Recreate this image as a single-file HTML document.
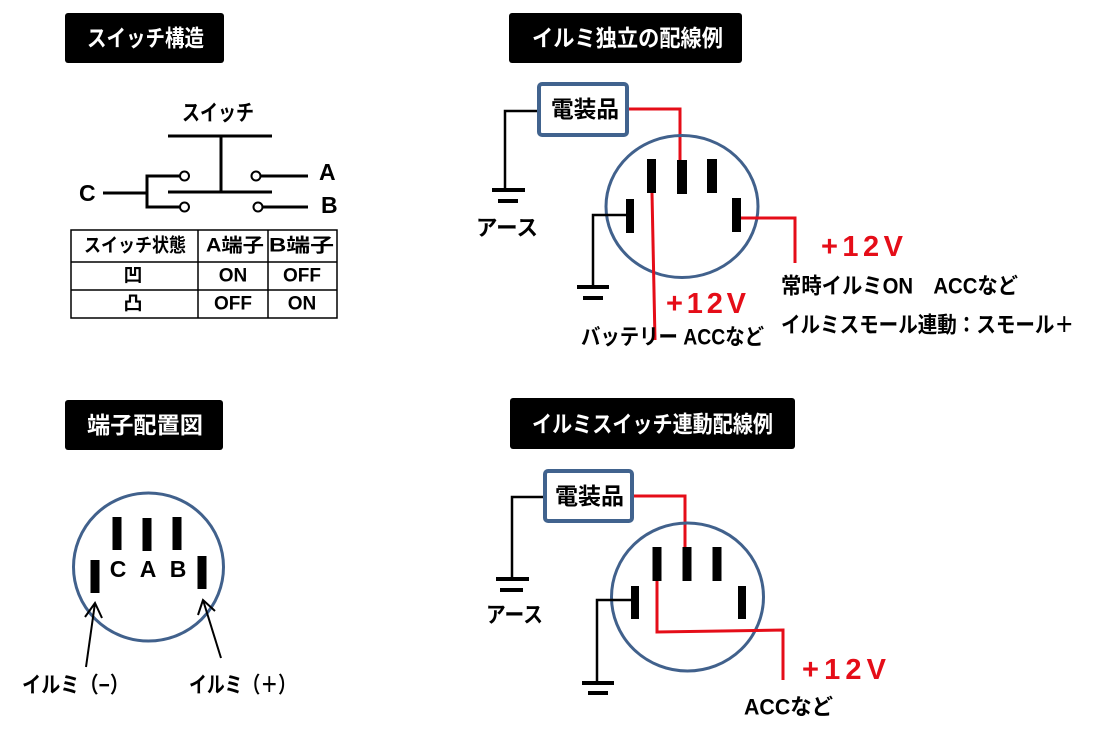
<!DOCTYPE html>
<html><head><meta charset="utf-8"><style>html,body{margin:0;padding:0;background:#fff}svg{display:block}</style></head>
<body>
<svg width="1097" height="732" viewBox="0 0 1097 732" xmlns="http://www.w3.org/2000/svg">
<rect width="1097" height="732" fill="#fff"/>
<g font-family="'Liberation Sans','Noto Sans CJK JP',sans-serif" font-weight="bold" dominant-baseline="central">

<!-- Titles -->
<rect x="65" y="13" width="159" height="50" rx="3" fill="#000"/>
<text x="87" y="38" font-size="23" fill="#fff" textLength="117" lengthAdjust="spacingAndGlyphs">スイッチ構造</text>
<rect x="509" y="13" width="233" height="50" rx="3" fill="#000"/>
<text x="532" y="38" font-size="23" fill="#fff" textLength="191" lengthAdjust="spacingAndGlyphs">イルミ独立の配線例</text>
<rect x="65" y="400" width="158" height="50" rx="3" fill="#000"/>
<text x="87" y="425" font-size="23" fill="#fff" textLength="116" lengthAdjust="spacingAndGlyphs">端子配置図</text>
<rect x="510" y="398" width="285" height="51" rx="3" fill="#000"/>
<text x="532" y="424" font-size="23" fill="#fff" textLength="241" lengthAdjust="spacingAndGlyphs">イルミスイッチ連動配線例</text>

<!-- Switch structure -->
<g stroke="#000" stroke-width="3" fill="none">
<line x1="168" y1="136" x2="272" y2="136"/>
<line x1="221" y1="136" x2="221" y2="192"/>
<line x1="168" y1="192" x2="272" y2="192"/>
<line x1="103" y1="193" x2="147" y2="193"/>
<line x1="147" y1="174.5" x2="147" y2="208.5"/>
<line x1="145.5" y1="176" x2="180" y2="176"/>
<line x1="145.5" y1="207" x2="180" y2="207"/>
<line x1="261" y1="176" x2="308" y2="176"/>
<line x1="263" y1="207" x2="308" y2="207"/>
</g>
<g stroke="#000" stroke-width="2" fill="#fff">
<circle cx="184.5" cy="176" r="4.5"/>
<circle cx="184.5" cy="207" r="4.5"/>
<circle cx="256" cy="176" r="4.5"/>
<circle cx="258" cy="207" r="4.5"/>
</g>
<text x="182" y="113" font-size="22" fill="#000" textLength="72" lengthAdjust="spacingAndGlyphs">スイッチ</text>
<text x="79" y="193" font-size="23" fill="#000">C</text>
<text x="319" y="172" font-size="23" fill="#000">A</text>
<text x="321" y="205" font-size="23" fill="#000">B</text>

<!-- Table -->
<g stroke="#000" stroke-width="1.5" fill="none">
<rect x="71" y="230" width="266" height="88"/>
<line x1="71" y1="262" x2="337" y2="262"/>
<line x1="71" y1="290" x2="337" y2="290"/>
<line x1="198" y1="230" x2="198" y2="318"/>
<line x1="268" y1="230" x2="268" y2="318"/>
</g>
<g font-size="19" fill="#000">
<text x="84" y="246" textLength="102" lengthAdjust="spacingAndGlyphs">スイッチ状態</text>
<text x="206" y="246" textLength="58" lengthAdjust="spacingAndGlyphs">A端子</text>
<text x="269" y="246" textLength="65" lengthAdjust="spacingAndGlyphs">B端子</text>
<text x="133" y="276" text-anchor="middle">凹</text>
<text x="233" y="276" text-anchor="middle">ON</text>
<text x="302" y="276" text-anchor="middle">OFF</text>
<text x="133" y="304" text-anchor="middle">凸</text>
<text x="233" y="304" text-anchor="middle">OFF</text>
<text x="302" y="304" text-anchor="middle">ON</text>
</g>

<!-- Figure: independent illumination wiring -->
<rect x="539" y="84" width="88" height="51" rx="3" fill="#fff" stroke="#41638e" stroke-width="4"/>
<text x="551" y="109" font-size="23" fill="#000" textLength="68" lengthAdjust="spacingAndGlyphs">電装品</text>
<polyline points="537,111 505,111 505,190" fill="none" stroke="#000" stroke-width="2.5"/>
<line x1="492" y1="190" x2="525" y2="190" stroke="#000" stroke-width="4"/>
<line x1="498" y1="201" x2="518" y2="201" stroke="#000" stroke-width="4"/>
<text x="476" y="228" font-size="22" fill="#000" textLength="62" lengthAdjust="spacingAndGlyphs">アース</text>
<polyline points="629,109 680,109 680,161" fill="none" stroke="#e50d18" stroke-width="3"/>
<ellipse cx="682" cy="206.5" rx="76" ry="71" fill="none" stroke="#41618c" stroke-width="3"/>
<g fill="#000">
<rect x="647" y="159" width="9" height="34"/>
<rect x="677" y="160" width="10" height="34"/>
<rect x="707" y="159" width="10" height="34"/>
<rect x="626" y="199" width="8" height="34"/>
<rect x="732" y="198" width="9" height="34"/>
</g>
<polyline points="626,215 593,215 593,287" fill="none" stroke="#000" stroke-width="2.5"/>
<line x1="577" y1="287" x2="609" y2="287" stroke="#000" stroke-width="4"/>
<line x1="583" y1="298" x2="603" y2="298" stroke="#000" stroke-width="4"/>
<line x1="652" y1="193" x2="655" y2="340" stroke="#e50d18" stroke-width="3"/>
<polyline points="741,218 795,218 795,263" fill="none" stroke="#e50d18" stroke-width="3"/>
<text x="666" y="304" font-size="29" fill="#e50d18" textLength="80" lengthAdjust="spacing">+12V</text>
<text x="581" y="337" font-size="22" fill="#000" textLength="183" lengthAdjust="spacingAndGlyphs">バッテリー ACCなど</text>
<text x="821" y="247" font-size="29" fill="#e50d18" textLength="82" lengthAdjust="spacing">+12V</text>
<text x="781" y="286" font-size="22" fill="#000" textLength="237" lengthAdjust="spacingAndGlyphs">常時イルミON　ACCなど</text>
<text x="781" y="325" font-size="22" fill="#000" textLength="293" lengthAdjust="spacingAndGlyphs">イルミスモール連動：スモール＋</text>

<!-- Figure: terminal layout -->
<ellipse cx="148.5" cy="567" rx="75" ry="74" fill="none" stroke="#41618c" stroke-width="3"/>
<g fill="#000">
<rect x="112.5" y="517" width="9" height="33"/>
<rect x="142.5" y="518" width="9" height="33"/>
<rect x="172.5" y="517" width="9" height="33"/>
<rect x="90.5" y="560" width="9" height="33"/>
<rect x="197.5" y="556" width="9" height="33"/>
</g>
<g font-size="23" fill="#000" text-anchor="middle">
<text x="118" y="569">C</text>
<text x="148" y="569">A</text>
<text x="178" y="569">B</text>
</g>
<g stroke="#000" stroke-width="2" fill="none">
<line x1="86" y1="667" x2="95" y2="603"/>
<polyline points="85,617 95,603 102,618"/>
<line x1="221" y1="658" x2="203" y2="600"/>
<polyline points="198,615 203,600 215,611"/>
</g>
<text x="22" y="685" font-size="22" fill="#000" textLength="107" lengthAdjust="spacingAndGlyphs">イルミ（−）</text>
<text x="189" y="685" font-size="22" fill="#000" textLength="107" lengthAdjust="spacingAndGlyphs">イルミ（＋）</text>

<!-- Figure: switch-linked wiring -->
<rect x="545" y="471" width="87" height="50" rx="3" fill="#fff" stroke="#41638e" stroke-width="4"/>
<text x="555" y="496" font-size="23" fill="#000" textLength="69" lengthAdjust="spacingAndGlyphs">電装品</text>
<polyline points="543,497 512,497 512,579" fill="none" stroke="#000" stroke-width="2.5"/>
<line x1="496" y1="579" x2="529" y2="579" stroke="#000" stroke-width="4"/>
<line x1="500" y1="590" x2="523" y2="590" stroke="#000" stroke-width="4"/>
<text x="486" y="615" font-size="22" fill="#000" textLength="57" lengthAdjust="spacingAndGlyphs">アース</text>
<polyline points="634,496 685,496 685,548" fill="none" stroke="#e50d18" stroke-width="3"/>
<ellipse cx="687.5" cy="597" rx="76" ry="74" fill="none" stroke="#41618c" stroke-width="3"/>
<g fill="#000">
<rect x="652.5" y="547" width="9" height="34"/>
<rect x="682.5" y="547" width="9" height="34"/>
<rect x="712.5" y="547" width="9" height="34"/>
<rect x="631" y="586" width="8" height="33"/>
<rect x="738" y="586" width="8" height="33"/>
</g>
<polyline points="631,600 597,600 597,683" fill="none" stroke="#000" stroke-width="2.5"/>
<line x1="582" y1="683" x2="614" y2="683" stroke="#000" stroke-width="4"/>
<line x1="588" y1="693" x2="608" y2="693" stroke="#000" stroke-width="4"/>
<polyline points="657,581 657,632 783,630 783,680" fill="none" stroke="#e50d18" stroke-width="3"/>
<text x="802" y="670" font-size="29" fill="#e50d18" textLength="84" lengthAdjust="spacing">+12V</text>
<text x="744" y="707" font-size="22" fill="#000" textLength="89" lengthAdjust="spacingAndGlyphs">ACCなど</text>

</g>
</svg>
</body></html>
